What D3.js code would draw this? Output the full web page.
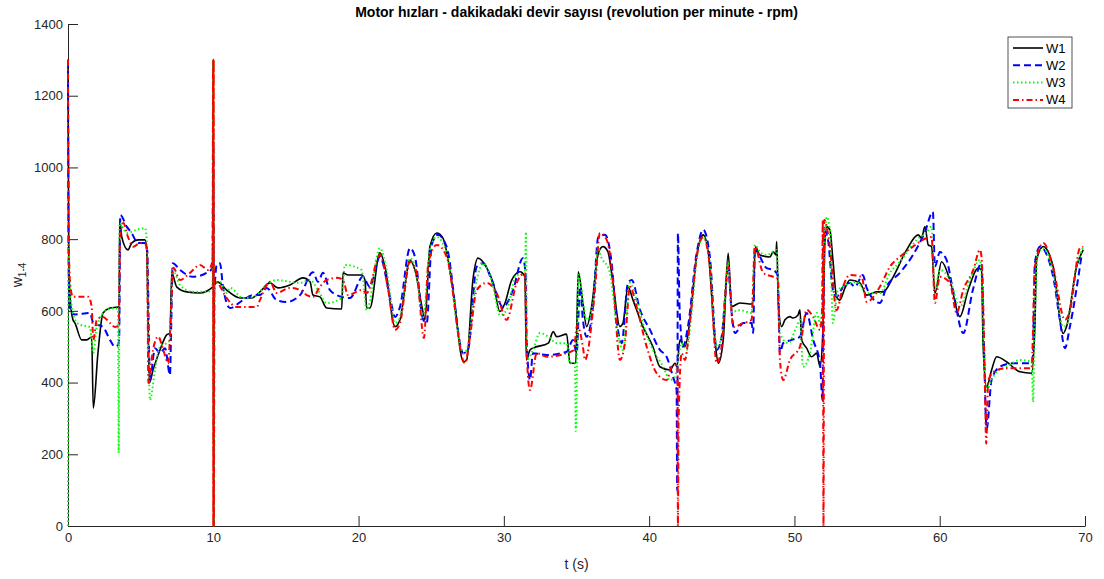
<!DOCTYPE html>
<html>
<head>
<meta charset="utf-8">
<script src="https://cdn.jsdelivr.net/npm/d3@7"></script>
<style>
  body { margin: 0; background: #fff; }
  svg { font-family: "Liberation Sans", Arial, sans-serif; }
</style>
</head>
<body>
<div id="chart"></div>
<script>
// series: [t (s), rpm]
var w1 = [[0,1300],[0.05,760],[0.14,640],[0.34,575],[0.48,566],[0.94,519],[1.29,519],[1.63,527],[1.74,329],[2.06,482],[2.41,594],[2.89,608],[3.44,611],[3.52,615],[3.56,853],[3.70,806],[4.13,770],[4.38,789],[4.82,798],[5.30,798],[5.42,770],[5.50,600],[5.60,399],[5.85,435],[6.33,491],[6.79,533],[7.02,538],[7.14,706],[7.48,667],[8.17,653],[9.08,650],[9.89,664],[9.97,668],[10.0,1300],[10.03,0],[10.07,672],[10.32,680],[10.92,658],[11.84,636],[12.64,636],[13.21,653],[13.90,678],[14.45,664],[15.28,672],[16.17,692],[16.66,681],[16.86,644],[17.34,639],[17.80,608],[18.84,605],[18.93,706],[19.27,700],[20.21,700],[20.44,686],[20.56,608],[20.78,608],[21.47,762],[21.82,723],[22.51,556],[22.85,575],[23.54,742],[23.88,714],[24.45,594],[24.57,575],[24.91,779],[25.38,817],[25.81,803],[26.50,658],[27.21,458],[27.44,463],[27.87,686],[28.22,747],[28.82,720],[29.27,678],[29.73,598],[30.08,622],[30.54,686],[31.11,709],[31.45,695],[31.55,463],[31.80,491],[32.00,496],[33.06,510],[33.40,542],[33.63,528],[34.32,535],[34.55,454],[34.95,454],[35.12,709],[35.44,622],[35.70,556],[36.04,612],[36.50,761],[36.82,779],[37.16,765],[37.51,678],[37.99,556],[38.20,566],[38.54,667],[38.89,630],[39.57,556],[40.26,500],[40.74,444],[41.43,435],[41.78,454],[41.91,444],[42.12,519],[42.46,500],[42.81,575],[43.27,751],[43.72,812],[44.05,770],[44.53,519],[44.76,454],[45.10,519],[45.44,761],[45.68,612],[46.25,622],[47.05,619],[47.20,640],[47.28,770],[47.63,756],[48.31,750],[48.54,765],[48.73,756],[48.78,793],[48.89,622],[49.12,556],[49.35,575],[49.69,584],[49.90,580],[50.24,588],[50.38,603],[50.50,519],[50.84,496],[51.18,472],[51.53,482],[51.76,444],[51.96,547],[52.10,790],[52.22,835],[52.44,826],[52.65,742],[52.90,639],[53.13,630],[53.48,664],[53.82,686],[54.51,678],[54.97,644],[55.66,653],[56.11,653],[56.80,695],[57.72,770],[58.52,812],[58.75,803],[58.98,835],[59.21,784],[59.44,779],[59.67,649],[60.13,737],[60.70,686],[61.39,584],[61.96,658],[62.65,719],[62.88,714],[62.99,500],[63.23,388],[63.57,435],[63.92,472],[64.60,458],[65.52,430],[66.32,426],[66.55,556],[66.67,742],[67.12,779],[67.81,723],[68.50,537],[68.73,556],[69.42,723],[69.88,770]];

var w2 = [[0,1300],[0.05,700],[0.14,600],[0.48,590],[1.51,594],[1.74,566],[2.41,555],[2.89,519],[3.23,500],[3.44,505],[3.52,520],[3.60,867],[4.04,835],[4.38,817],[4.82,789],[5.30,789],[5.45,770],[5.64,407],[5.99,496],[6.33,482],[6.68,496],[7.02,421],[7.10,550],[7.21,733],[7.71,714],[8.60,695],[9.55,706],[9.95,720],[10.0,1050],[10.03,650],[10.23,728],[10.46,733],[10.67,667],[11.15,608],[12.04,630],[12.73,644],[13.21,644],[13.68,664],[14.36,630],[15.05,625],[15.97,644],[16.86,708],[17.21,681],[17.55,706],[18.03,658],[18.84,639],[19.41,636],[20.30,695],[20.78,667],[21.47,751],[22.16,639],[22.51,583],[22.85,611],[23.54,775],[23.88,751],[24.45,575],[24.69,566],[25.03,784],[25.46,812],[26.06,779],[27.21,482],[27.53,491],[28.13,723],[28.58,733],[29.16,686],[29.94,611],[30.63,658],[31.31,747],[31.50,700],[31.57,519],[31.80,407],[32.00,482],[32.95,477],[34.32,486],[34.76,519],[35.01,482],[35.24,667],[35.44,575],[35.70,528],[36.13,611],[36.50,806],[36.96,812],[37.42,733],[37.76,575],[38.11,510],[38.54,678],[38.80,686],[39.37,603],[40.06,547],[40.74,491],[41.20,472],[41.64,416],[41.89,379],[41.93,100],[41.98,817],[42.10,600],[42.33,500],[42.67,556],[43.27,761],[43.72,826],[44.18,751],[44.65,491],[44.99,528],[45.44,714],[45.68,594],[45.90,538],[46.48,566],[47.05,566],[47.16,538],[47.28,779],[47.63,751],[48.09,719],[48.54,714],[48.85,700],[49.00,482],[49.23,510],[49.81,519],[50.38,528],[50.84,594],[51.29,519],[51.76,454],[51.93,351],[52.05,826],[52.31,798],[52.65,658],[52.90,639],[53.34,667],[53.82,678],[54.16,667],[54.71,700],[54.97,664],[55.88,622],[56.34,667],[57.26,706],[58.16,756],[58.98,820],[59.53,876],[59.67,723],[60.01,764],[60.47,742],[60.91,658],[61.62,538],[62.28,658],[62.88,733],[62.99,594],[63.23,270],[63.57,407],[64.14,444],[65.04,454],[66.21,454],[66.40,460],[66.55,733],[66.90,779],[67.81,695],[68.27,575],[68.62,496],[68.96,556],[69.77,756]];

var w3 = [[0,0],[0.03,800],[0.14,650],[0.48,575],[0.83,561],[1.51,555],[1.74,482],[1.98,555],[2.66,602],[3.23,608],[3.44,602],[3.49,204],[3.55,845],[4.04,817],[4.73,826],[5.30,831],[5.42,800],[5.50,600],[5.64,351],[5.99,435],[6.33,500],[6.79,510],[7.02,519],[7.21,714],[7.71,672],[8.60,653],[9.55,653],[9.95,660],[10.0,1300],[10.03,0],[10.08,670],[10.23,678],[10.46,681],[10.92,650],[11.15,664],[12.04,636],[12.73,639],[13.68,672],[14.36,686],[15.28,681],[15.97,678],[16.66,686],[17.21,658],[17.80,622],[18.84,636],[19.06,728],[20.21,714],[20.56,602],[21.47,775],[21.93,714],[22.51,566],[22.85,583],[23.54,747],[23.88,723],[24.45,583],[24.91,770],[25.38,806],[26.06,761],[27.21,482],[27.44,491],[28.13,686],[28.58,733],[29.27,667],[29.73,588],[30.19,602],[30.88,700],[31.45,700],[31.52,820],[31.60,463],[32.00,491],[32.48,538],[33.06,528],[33.63,510],[34.32,510],[34.55,454],[34.89,454],[34.95,265],[35.05,500],[35.12,700],[35.70,575],[36.13,622],[36.50,779],[36.61,761],[37.30,706],[37.87,528],[38.20,491],[38.68,678],[39.14,630],[39.57,566],[40.26,491],[40.97,444],[41.43,407],[41.78,416],[41.95,450],[42.24,510],[42.58,491],[42.92,594],[43.27,742],[43.72,806],[44.18,733],[44.65,500],[44.99,528],[45.44,733],[45.68,597],[46.25,602],[47.05,594],[47.28,784],[47.63,764],[48.09,756],[48.78,770],[49.00,538],[49.57,510],[50.15,556],[50.38,575],[50.59,444],[51.07,482],[51.53,594],[51.80,560],[52.22,862],[52.44,826],[52.65,566],[52.99,658],[53.34,667],[54.28,681],[54.97,649],[55.88,649],[56.57,706],[57.26,737],[57.95,775],[58.41,798],[59.10,820],[59.44,835],[59.67,658],[60.01,714],[60.70,686],[61.39,611],[62.08,686],[62.77,742],[62.88,700],[63.11,407],[63.23,379],[63.57,407],[63.92,430],[64.60,444],[65.52,463],[66.32,458],[66.43,346],[66.50,500],[66.78,764],[67.12,775],[67.81,706],[68.50,556],[68.73,560],[69.42,723],[69.88,779]];

// W4 oscillates at t=10 (motor reset), which paints the spike solid red
var w4 = [[0,1300],[0.05,800],[0.14,678],[0.34,639],[0.83,639],[1.40,639],[1.63,611],[1.74,519],[1.98,575],[2.41,583],[2.89,566],[3.23,555],[3.50,560],[3.58,800],[3.81,845],[4.13,806],[4.49,779],[4.96,789],[5.35,785],[5.45,760],[5.53,399],[5.85,491],[6.21,528],[6.56,491],[6.90,454],[7.05,560],[7.25,720],[7.71,686],[8.40,706],[9.08,728],[9.66,714],[9.95,740],[9.99,1300],[10.0,0],[10.01,1300],[10.02,0],[10.03,1300],[10.04,0],[10.08,690],[10.32,678],[10.92,636],[11.61,611],[12.30,611],[12.99,611],[13.21,630],[13.90,681],[14.36,650],[15.28,664],[15.97,658],[16.43,644],[16.86,639],[17.34,667],[17.80,686],[18.49,692],[18.93,686],[19.27,644],[20.21,658],[20.56,650],[21.47,756],[22.04,658],[22.51,547],[22.85,566],[23.54,737],[24.00,706],[24.50,524],[24.80,733],[25.38,784],[26.06,751],[27.32,454],[27.67,528],[28.13,658],[28.82,678],[29.50,650],[30.19,575],[30.88,678],[31.45,706],[31.57,482],[31.80,379],[32.26,482],[32.95,472],[34.32,482],[34.80,490],[35.05,560],[35.44,500],[35.58,463],[36.27,658],[36.61,817],[37.08,798],[37.51,686],[37.99,463],[38.33,510],[38.68,667],[39.14,611],[39.83,500],[40.52,426],[41.20,407],[41.55,444],[41.78,449],[41.95,449],[41.98,0],[42.03,300],[42.24,482],[42.46,463],[42.81,570],[43.27,751],[43.72,806],[44.18,723],[44.65,454],[44.99,500],[45.44,723],[45.79,555],[46.48,566],[47.05,575],[47.28,779],[47.85,706],[48.54,695],[48.85,690],[49.00,463],[49.23,407],[49.69,463],[50.38,500],[50.84,603],[51.29,583],[51.76,547],[51.90,600],[51.95,854],[52.00,0],[52.05,854],[52.44,779],[52.90,602],[53.34,667],[53.82,700],[54.63,695],[54.97,625],[55.88,667],[56.57,723],[57.26,751],[58.16,779],[59.10,803],[59.44,806],[59.67,622],[60.01,695],[60.70,678],[61.16,594],[61.62,658],[62.31,714],[62.77,770],[62.88,750],[63.11,400],[63.20,230],[63.34,407],[63.92,435],[64.60,440],[66.32,440],[66.55,723],[67.12,789],[67.81,720],[68.62,575],[68.96,600],[69.65,775],[69.88,779]];

var names = ["W1", "W2", "W3", "W4"];
var colors = ["#000000", "#0000ff", "#00ff00", "#ff0000"];
var dashes = [null, "7,4", "1.5,2.5", "6,3,1.5,3"];
var xTicks = [0, 10, 20, 30, 40, 50, 60, 70];
var yTicks = [0, 200, 400, 600, 800, 1000, 1200, 1400];

var width = 1104, height = 579;
var margin = {top: 24, right: 19, bottom: 53, left: 68};

var svg = d3.select("#chart").append("svg")
    .attr("width", width).attr("height", height);

var x = d3.scaleLinear().domain([0, 70]).range([margin.left, width - margin.right]);
var y = d3.scaleLinear().domain([0, 1400]).range([height - margin.bottom, margin.top]);

svg.append("defs").append("clipPath").attr("id", "clip")
  .append("rect")
    .attr("x", margin.left - 2).attr("y", margin.top)
    .attr("width", width - margin.left - margin.right + 4)
    .attr("height", height - margin.top - margin.bottom + 1);

// axes (left + bottom only, ticks inside)
var xAxis = svg.append("g")
    .attr("transform", "translate(0," + (height - margin.bottom) + ")")
    .call(d3.axisBottom(x).tickValues(xTicks).tickFormat(d3.format("d"))
      .tickSize(-10).tickPadding(7).tickSizeOuter(0));
var yAxis = svg.append("g")
    .attr("transform", "translate(" + margin.left + ",0)")
    .call(d3.axisLeft(y).tickValues(yTicks).tickFormat(d3.format("d"))
      .tickSize(-10).tickPadding(5).tickSizeOuter(0));

[xAxis, yAxis].forEach(function(a) {
  a.select(".domain").attr("stroke", "#262626");
  a.selectAll(".tick line").attr("stroke", "#262626");
  a.selectAll(".tick text").attr("fill", "#262626")
    .style("font-size", "13px").style("font-family", "Liberation Sans, Arial, sans-serif");
});

var line = d3.line()
    .x(function(d) { return x(d[0]); })
    .y(function(d) { return y(d[1]); })
    .curve(d3.curveMonotoneX);

var series = [w1, w2, w3, w4];
var plot = svg.append("g").attr("clip-path", "url(#clip)");
plot.selectAll("path.series")
    .data(series)
  .enter().append("path")
    .attr("class", "series")
    .attr("d", line)
    .attr("fill", "none")
    .attr("stroke", function(d, i) { return colors[i]; })
    .attr("stroke-width", function(d, i) { return i === 0 ? 1.6 : 2; })
    .attr("stroke-dasharray", function(d, i) { return dashes[i]; })
    .attr("stroke-linejoin", "round");

// title and labels
svg.append("text")
    .attr("x", (margin.left + width - margin.right) / 2).attr("y", 17)
    .attr("text-anchor", "middle")
    .style("font-size", "14px").style("font-weight", "bold").attr("fill", "#000")
    .text("Motor hızları - dakikadaki devir sayısı (revolution per minute - rpm)");

svg.append("text")
    .attr("x", (margin.left + width - margin.right) / 2).attr("y", 569)
    .attr("text-anchor", "middle")
    .style("font-size", "14px").attr("fill", "#262626")
    .text("t (s)");

var yl = svg.append("text")
    .attr("transform", "translate(22," + ((margin.top + height - margin.bottom) / 2) + ") rotate(-90)")
    .attr("text-anchor", "middle")
    .style("font-size", "14px").attr("fill", "#262626");
yl.append("tspan").text("w");
yl.append("tspan").attr("dy", 4).style("font-size", "10px").text("1-4");

// legend
var lg = svg.append("g").attr("transform", "translate(1008,37)");
lg.append("rect").attr("width", 64).attr("height", 71)
    .attr("fill", "#fff").attr("stroke", "#262626").attr("stroke-width", 0.8);
var item = lg.selectAll("g.item").data(names).enter().append("g")
    .attr("class", "item")
    .attr("transform", function(d, i) { return "translate(0," + (11 + i * 17.3) + ")"; });
item.append("line")
    .attr("x1", 5).attr("x2", 35)
    .attr("stroke", function(d, i) { return colors[i]; })
    .attr("stroke-width", function(d, i) { return i === 0 ? 1.6 : 2; })
    .attr("stroke-dasharray", function(d, i) { return dashes[i]; });
item.append("text")
    .attr("x", 38).attr("dy", "0.35em")
    .style("font-size", "13px").attr("fill", "#000")
    .text(function(d) { return d; });
</script>
</body>
</html>
